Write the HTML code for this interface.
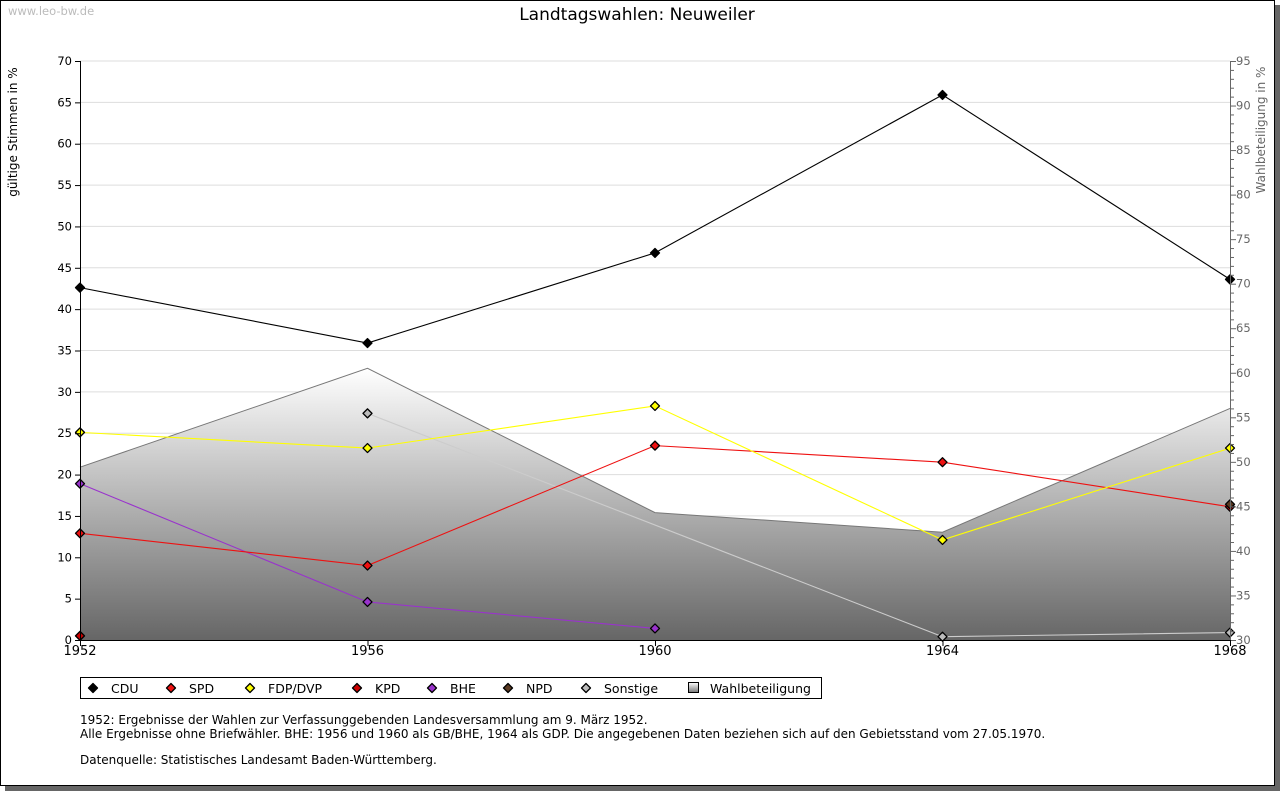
<!DOCTYPE html>
<html><head><meta charset="utf-8"><style>
html,body{margin:0;padding:0;background:#fff;}
svg{display:block;font-family:"DejaVu Sans","Liberation Sans",sans-serif;}
</style></head><body>
<svg id="chart" width="1280" height="791" viewBox="0 0 1280 791">
<defs>
<linearGradient id="wg" x1="0" y1="0" x2="0" y2="1"><stop offset="0" stop-color="#ffffff"/><stop offset="1" stop-color="#666666"/></linearGradient>
<linearGradient id="lg" x1="0" y1="0" x2="0" y2="1"><stop offset="0" stop-color="#fff"/><stop offset="1" stop-color="#777"/></linearGradient>
</defs>
<rect x="5" y="5" width="1275" height="786" fill="#666"/>
<rect x="0.5" y="0.5" width="1274" height="785" fill="#fff" stroke="#000"/>
<text x="8" y="15" font-size="11.5" fill="#bbb">www.leo-bw.de</text>
<text x="637" y="20" font-size="17" text-anchor="middle" fill="#000">Landtagswahlen: Neuweiler</text>
<text transform="translate(17,132) rotate(-90)" font-size="12" text-anchor="middle">gültige Stimmen in %</text>
<text transform="translate(1265,130) rotate(-90)" font-size="12" text-anchor="middle" fill="#666">Wahlbeteiligung in %</text>
<g id="grid"></g><g id="area"></g><g id="series"></g><g id="axes"></g>
<g>
<rect x="80.5" y="677.5" width="741" height="21" fill="#fff" stroke="#000"/>
<g id="legend"></g>
</g>
<g font-size="12">
<text x="80" y="724">1952: Ergebnisse der Wahlen zur Verfassunggebenden Landesversammlung am 9. März 1952.</text>
<text x="80" y="738">Alle Ergebnisse ohne Briefwähler. BHE: 1956 und 1960 als GB/BHE, 1964 als GDP. Die angegebenen Daten beziehen sich auf den Gebietsstand vom 27.05.1970.</text>
<text x="80" y="764">Datenquelle: Statistisches Landesamt Baden-Württemberg.</text>
</g>
</svg>
<script>
const years=[1952,1956,1960,1964,1968];
const cdu=[42.6,35.9,46.8,65.9,43.6];
const spd=[12.9,9.0,23.5,21.5,16.1];
const fdp=[25.1,23.2,28.3,12.1,23.2];
const kpd=[0.5,null,null,null,null];
const bhe=[18.9,4.6,1.4,null,null];
const npd=[null,null,null,null,16.4];
const sonstige=[null,27.4,null,0.4,0.9];
const turnout=[49.4,60.5,44.3,42.1,56.0];
const leftTicks=[0,5,10,15,20,25,30,35,40,45,50,55,60,65,70];
const rightTicks=[30,35,40,45,50,55,60,65,70,75,80,85,90,95];
const NS="http://www.w3.org/2000/svg";
const X0=80,X1=1230,Y0=640,Y1=61;
const xs=y=>X0+(y-1952)/(1968-1952)*(X1-X0);
const yl=v=>Y0-v/70*(Y0-Y1);
const yr=v=>Y0-(v-30)/65*(Y0-Y1);
function mk(tag,attrs,parent,txt){const e=document.createElementNS(NS,tag);for(const k in attrs)e.setAttribute(k,attrs[k]);if(txt!=null)e.textContent=txt;document.getElementById(parent).appendChild(e);return e;}
function diamond(cx,cy,fill,parent){return mk('polygon',{points:`${cx},${cy-4.5} ${cx+4.5},${cy} ${cx},${cy+4.5} ${cx-4.5},${cy}`,fill:fill,stroke:'#000','stroke-width':1.3,'stroke-linejoin':'round'},parent);}
leftTicks.forEach(t=>{if(t>0){const g=mk('line',{x1:X0,x2:X1,y1:yl(t),y2:yl(t),stroke:'#ddd'},'grid');

}});
let pts=years.map((y,i)=>xs(y)+','+yr(turnout[i])).join(' ');
const ar=mk('polygon',{points:X0+','+Y0+' '+pts+' '+X1+','+Y0,fill:'url(#wg)',stroke:'none'},'area');


const al=mk('polyline',{points:pts,fill:'none',stroke:'#777'},'area');


const series=[['sonstige',sonstige,'#bbb','#ccc'],['bhe',bhe,'#9933cc','#9933cc'],['kpd',kpd,'#cc0000','#cc0000'],['spd',spd,'#ee1111','#ee1111'],['fdp',fdp,'#ffff00','#ffff00'],['cdu',cdu,'#000','#000'],['npd',npd,'#5a3a22','#5a3a22']];
series.forEach(([n,d,fill,line])=>{
 const s=[];d.forEach((v,i)=>{if(v!=null)s.push(xs(years[i])+','+yl(v));});
 if(s.length>1){const l=mk('polyline',{points:s.join(' '),fill:'none',stroke:line,'stroke-width':1.1},'series');
 
 }
 d.forEach((v,i)=>{if(v==null)return;
 const p=diamond(xs(years[i]),yl(v),fill,'series');
 
 });
});
mk('line',{x1:X0+.5,x2:X0+.5,y1:Y1,y2:Y0,stroke:'#000'},'axes');
mk('line',{x1:X0,x2:X1,y1:Y0+.5,y2:Y0+.5,stroke:'#000'},'axes');
mk('line',{x1:X1+.5,x2:X1+.5,y1:Y1,y2:Y0,stroke:'#666'},'axes');
leftTicks.forEach(t=>{mk('line',{x1:X0-5,x2:X0,y1:yl(t)+.5,y2:yl(t)+.5,stroke:'#000'},'axes');
 const tx=mk('text',{x:X0-8,y:yl(t)+4,'font-size':11.5,'text-anchor':'end'},'axes',t);
 
 });
for(let v=30;v<=95;v++){mk('line',{x1:X1,x2:X1+(v%5?4:6),y1:yr(v)+.5,y2:yr(v)+.5,stroke:'#666'},'axes');}
rightTicks.forEach(t=>{const tx=mk('text',{x:X1+6,y:yr(t)+4,'font-size':11.5,fill:'#666'},'axes',t);
 
 });
years.forEach(y=>{mk('line',{x1:xs(y)+.5,x2:xs(y)+.5,y1:Y0,y2:Y0+6,stroke:'#000'},'axes');
 const tx=mk('text',{x:xs(y),y:Y0+15,'font-size':13,'text-anchor':'middle'},'axes',y);
 
 });
const leg=[['CDU','#000',93],['SPD','#ee1111',171],['FDP/DVP','#ffff00',250],['KPD','#cc0000',357],['BHE','#9933cc',432],['NPD','#5a3a22',508],['Sonstige','#bbb',586]];
leg.forEach(([n,c,x])=>{const cy=688;
 const p=diamond(x,cy,c,'legend');
 
 
 const t=mk('text',{x:x+18,y:cy+5,'font-size':12.5},'legend',n);
 
 });
mk('rect',{x:688.5,y:682.5,width:10,height:10,fill:'url(#lg)',stroke:'#000'},'legend');
const wt=mk('text',{x:710,y:693,'font-size':12.5},'legend','Wahlbeteiligung');


</script>
</body></html>
